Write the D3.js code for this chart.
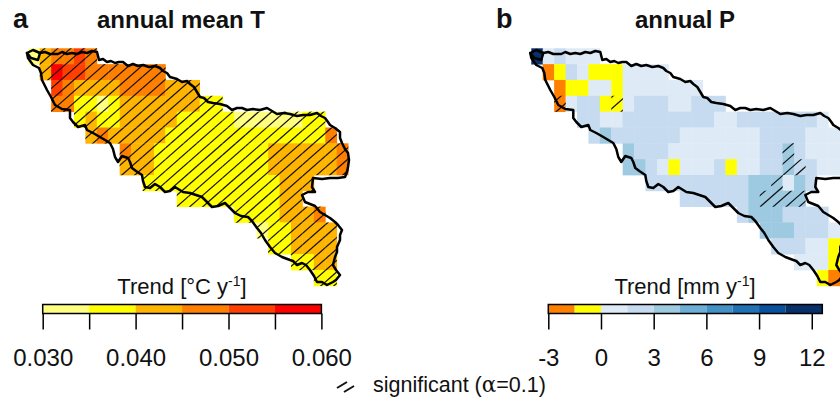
<!DOCTYPE html>
<html><head><meta charset="utf-8">
<script src="https://cdn.jsdelivr.net/npm/d3@7"></script>
<style>html,body{margin:0;padding:0;background:#fff}svg{display:block}text{font-family:"Liberation Sans",Arial,sans-serif;fill:#111}</style>
</head><body><svg id="c" width="840" height="401"></svg>
<script>
const _ = null;
// Temperature trend per grid cell, in 10^-3 degC per year
const trendT = [
[33,43,48,48,53,48,_,_,_,_,_,_,_,_,_,_,_,_,_,_,_,_,_,_,_,_,_,_],
[_,43,58,53,53,48,48,48,48,48,48,48,_,_,_,_,_,_,_,_,_,_,_,_,_,_,_,_],
[_,_,53,48,43,43,43,43,48,48,48,48,43,43,43,_,_,_,_,_,_,_,_,_,_,_,_,_],
[_,_,48,48,38,38,33,38,43,43,43,43,43,43,43,38,38,_,_,_,_,_,_,_,_,_,_,_],
[_,_,_,_,38,43,38,38,43,43,43,43,43,38,38,38,38,38,33,33,33,33,33,33,38,38,_,_],
[_,_,_,_,_,43,48,43,43,43,43,43,38,38,38,38,38,38,38,38,38,38,38,38,38,38,48,_],
[_,_,_,_,_,_,_,_,48,43,43,38,38,38,38,38,38,38,38,38,38,43,43,43,43,43,43,48],
[_,_,_,_,_,_,_,_,43,43,43,38,38,38,38,38,38,38,38,38,38,43,43,43,43,43,43,48],
[_,_,_,_,_,_,_,_,_,_,38,38,38,38,38,38,38,38,38,38,38,38,43,43,43,_,_,_],
[_,_,_,_,_,_,_,_,_,_,_,_,_,38,38,38,38,38,38,38,38,38,43,43,_,_,_,_],
[_,_,_,_,_,_,_,_,_,_,_,_,_,_,_,_,_,_,38,38,38,38,43,43,43,48,_,_],
[_,_,_,_,_,_,_,_,_,_,_,_,_,_,_,_,_,_,_,_,33,38,38,43,43,43,43,_],
[_,_,_,_,_,_,_,_,_,_,_,_,_,_,_,_,_,_,_,_,_,38,38,43,43,43,43,_],
[_,_,_,_,_,_,_,_,_,_,_,_,_,_,_,_,_,_,_,_,_,_,_,38,38,43,43,_],
[_,_,_,_,_,_,_,_,_,_,_,_,_,_,_,_,_,_,_,_,_,_,_,_,_,38,38,_]
];
// Precipitation trend per grid cell, mm per year
const trendP = [
[11,.8,2.2,.8,.8,.8,_,_,_,_,_,_,_,_,_,_,_,_,_,_,_,_,_,_,_,_,_,_],
[_,-2,-.7,2.2,.8,-.7,-.7,-.7,.8,.8,.8,.8,_,_,_,_,_,_,_,_,_,_,_,_,_,_,_,_],
[_,_,-2,-.7,-.7,.8,.8,-.7,.8,.8,.8,.8,.8,.8,.8,_,_,_,_,_,_,_,_,_,_,_,_,_],
[_,_,-2,.8,2.2,2.2,-.7,-.7,.8,2.2,2.2,2.2,.8,.8,2.2,2.2,2.2,_,_,_,_,_,_,_,_,_,_,_],
[_,_,_,_,2.2,2.2,.8,.8,2.2,2.2,2.2,2.2,2.2,2.2,2.2,2.2,.8,.8,2.2,2.2,2.2,2.2,2.2,2.2,2.2,.8,_,_],
[_,_,_,_,_,2.2,3.8,2.2,2.2,2.2,2.2,2.2,2.2,.8,.8,.8,.8,.8,.8,.8,2.2,2.2,2.2,2.2,.8,.8,.8,_],
[_,_,_,_,_,_,_,_,3.8,2.2,2.2,2.2,.8,.8,.8,.8,.8,.8,.8,.8,2.2,2.2,3.8,2.2,.8,.8,.8,.8],
[_,_,_,_,_,_,_,_,3.8,3.8,2.2,.8,-.7,.8,.8,.8,2.2,-.7,.8,.8,2.2,2.2,3.8,2.2,2.2,.8,.8,.8],
[_,_,_,_,_,_,_,_,_,_,2.2,2.2,2.2,2.2,2.2,2.2,2.2,2.2,2.2,3.8,3.8,3.8,.8,3.8,2.2,_,_,_],
[_,_,_,_,_,_,_,_,_,_,_,_,_,2.2,2.2,2.2,2.2,2.2,2.2,3.8,3.8,3.8,3.8,3.8,_,_,_,_],
[_,_,_,_,_,_,_,_,_,_,_,_,_,_,_,_,_,_,2.2,3.8,3.8,3.8,2.2,2.2,2.2,2.2,_,_],
[_,_,_,_,_,_,_,_,_,_,_,_,_,_,_,_,_,_,_,_,3.8,3.8,3.8,2.2,2.2,2.2,.8,_],
[_,_,_,_,_,_,_,_,_,_,_,_,_,_,_,_,_,_,_,_,_,2.2,2.2,2.2,.8,.8,-.7,_],
[_,_,_,_,_,_,_,_,_,_,_,_,_,_,_,_,_,_,_,_,_,_,_,.8,.8,.8,-.7,_],
[_,_,_,_,_,_,_,_,_,_,_,_,_,_,_,_,_,_,_,_,_,_,_,_,_,-.7,-2,_]
];
// [row, col] of cells
const notSignificantT = [[0,0]];
const significantP = [[3,2],[3,7],[6,22],[7,22],[7,23],[8,21],[9,20],[9,21],[9,22],[9,23]];

// basin outline, in map units
const basin = [[27,53],[33,50],[40,53],[45,52],[50,54],[58,54],[62,52],[67,54],[72,53],[77,54],[82,52],[87,53],[92,51],[97,52],[99,60],[103,59],[107,62],[111,61],[115,63],[119,62],[123,62],[128,66],[133,64],[138,66],[143,65],[149,67],[155,66],[160,68],[163,71],[167,73],[170,77],[177,79],[182,82],[187,81],[190,84],[194,87],[197,92],[200,97],[204,98],[208,102],[213,103],[220,104],[227,106],[232,110],[237,108],[242,108],[247,110],[253,109],[260,110],[267,108],[272,111],[277,114],[284,113],[290,114],[297,116],[303,115],[310,115],[317,113],[321,116],[325,118],[328,122],[330,125],[335,128],[340,132],[340,138],[342,143],[345,149],[348,153],[349,160],[348,167],[347,172],[345,177],[338,178],[330,178],[322,179],[313,178],[312,187],[315,192],[308,192],[302,195],[305,202],[315,206],[320,212],[325,215],[330,218],[335,222],[338,225],[342,230],[340,235],[340,240],[337,247],[337,252],[335,257],[333,265],[336,270],[340,275],[336,280],[333,282],[327,285],[322,282],[317,282],[314,276],[310,270],[306,265],[302,263],[297,265],[293,261],[290,260],[282,257],[275,253],[270,247],[265,240],[261,233],[257,228],[252,221],[248,217],[241,216],[235,213],[230,208],[225,203],[218,206],[212,207],[206,201],[202,197],[196,195],[190,193],[183,192],[175,187],[170,191],[165,192],[160,187],[155,184],[150,188],[145,187],[143,181],[142,175],[136,171],[132,168],[130,162],[128,158],[122,156],[118,162],[115,157],[113,149],[110,143],[105,140],[100,137],[93,133],[87,130],[85,125],[78,127],[73,122],[70,118],[70,110],[62,109],[55,105],[51,97],[47,90],[42,80],[41,73],[39,68],[33,65],[28,58],[27,53]];
const basinLoop = [[40,53],[38,60],[31,58],[27,53]];

const colorsT = ["#FFFF80","#FFFF00","#FFB400","#FF8000","#FF4000","#FF0000"];
const breaksT = [30,35,40,45,50,55,60];
const ticksT = [30,35,40,45,50,55,60];
const tickLabelsT = ["0.030","","0.040","","0.050","","0.060"];
const colorsP = ["#FF8000","#FFFF00","#DEEBF7","#C6DBEF","#9ECAE1","#6BAED6","#4292C6","#2171B5","#08519C","#08306B"];
const breaksP = [-3,-1.5,0,1.5,3,4.5,6,7.5,9,10.5,12.6];
const ticksP = [-3,0,3,6,9,12];

const svg = d3.select("#c");
const gridX = d3.scaleLinear().domain([0,28]).range([0,319.8]);
const gridY = d3.scaleLinear().domain([0,15]).range([48.3,285.8]);

function panel(o){
  const g = svg.append("g");
  const cw = gridX(1)-gridX(0), ch = gridY(1)-gridY(0);
  const color = d3.scaleThreshold().domain(o.breaks.slice(1,-1)).range(o.colors);
  const X = k => o.x0 + gridX(k);
  const cells = [];
  o.data.forEach((r,i)=>r.forEach((v,j)=>{ if(v!==null) cells.push({i,j,v}); }));
  g.selectAll("rect.cell").data(cells).join("rect").attr("class","cell")
    .attr("x",d=>X(d.j)).attr("y",d=>gridY(d.i)).attr("width",cw+.4).attr("height",ch+.4)
    .attr("fill",d=>color(d.v));
  // hatch, kept to the significant cells
  const id = "clip"+o.id;
  const cp = svg.append("clipPath").attr("id",id);
  cp.selectAll("rect").data(cells.filter(o.sig)).join("rect")
    .attr("x",d=>X(d.j)).attr("y",d=>gridY(d.i)).attr("width",cw+.2).attr("height",ch+.2);
  const hatch = g.append("g").attr("clip-path",`url(#${id})`);
  hatch.selectAll("line").data(d3.range(-40,60)).join("line")
    .attr("x1",n=>o.x0+o.hatchPhase+n*o.hatchStep).attr("y1",300)
    .attr("x2",n=>o.x0+o.hatchPhase+n*o.hatchStep+300).attr("y2",300-300*o.hatchSlope)
    .attr("stroke","#111").attr("stroke-width",1.2);
  // outline
  const mx = d3.scaleLinear().domain([0,100]).range([o.shift,o.shift+100]);
  const my = d3.scaleLinear().domain([0,100]).range([0,100]);
  const line = d3.line().x(d=>mx(d[0])).y(d=>my(d[1])).curve(d3.curveLinear);
  [basin,basinLoop].forEach(b=>g.append("path").attr("d",line(b)).attr("fill","none")
     .attr("stroke","#000").attr("stroke-width",2.5).attr("stroke-linejoin","round").attr("stroke-linecap","round"));
  // colour bar
  const sx = d3.scaleLinear().domain(o.domain).range(o.barRange);
  const bar = g.append("g");
  bar.selectAll("rect").data(o.colors).join("rect")
    .attr("x",(d,i)=>sx(o.breaks[i])).attr("y",305).attr("height",8.5)
    .attr("width",(d,i)=>sx(o.breaks[i+1])-sx(o.breaks[i])).attr("fill",d=>d);
  bar.append("rect").attr("x",o.barRange[0]).attr("y",304.5).attr("width",o.barRange[1]-o.barRange[0]).attr("height",9)
    .attr("fill","none").attr("stroke","#000").attr("stroke-width",1.5);
  const axis = d3.axisBottom(sx).tickValues(o.ticks).tickSize(16).tickPadding(14).tickFormat((d,i)=>o.labels[i]);
  const ax = g.append("g").attr("transform","translate(0,313.5)").call(axis);
  ax.select(".domain").remove();
  ax.selectAll(".tick line").attr("stroke","#000").attr("stroke-width",1.5);
  ax.selectAll(".tick text").attr("font-size",24).attr("fill","#111").attr("dy",0).attr("y",52.5);
  // texts
  const t = g.append("text").attr("x",o.trendX).attr("y",294).attr("font-size",22).attr("text-anchor","middle");
  t.append("tspan").text(o.unit[0]);
  t.append("tspan").text("-1").attr("font-size",14).attr("dy",-8);
  t.append("tspan").text("]").attr("dy",8);
  g.append("text").attr("x",o.letterX).attr("y",28).attr("font-size",27).attr("font-weight","bold").text(o.letter);
  g.append("text").attr("x",o.titleX).attr("y",28).attr("font-size",24).attr("font-weight","bold").attr("text-anchor","middle").text(o.title);
}

panel({id:"T",data:trendT,breaks:breaksT,colors:colorsT,domain:[30,60],barRange:[42.7,321.4],ticks:ticksT,labels:tickLabelsT,
  sig:d=>!notSignificantT.some(n=>n[0]===d.i&&n[1]===d.j),x0:28.3,shift:0,hatchPhase:3.5,hatchStep:13,hatchSlope:.88,
  unit:["Trend [°C y"],trendX:182,letter:"a",letterX:13,title:"annual mean T",titleX:181});
panel({id:"P",data:trendP,breaks:breaksP,colors:colorsP,domain:[-3,12.6],barRange:[548.3,822.3],ticks:ticksP,labels:ticksP.map(String),
  sig:d=>significantP.some(n=>n[0]===d.i&&n[1]===d.j),x0:531.3,shift:503.3,hatchPhase:5.9,hatchStep:13,hatchSlope:.88,
  unit:["Trend [mm y"],trendX:685,letter:"b",letterX:496,title:"annual P",titleX:685});

// legend
const legendKey = [0,1];
svg.selectAll("line.key").data(legendKey).join("line").attr("class","key")
  .attr("x1",d=>337+d*7).attr("y1",d=>388+d*4).attr("x2",d=>347+d*7).attr("y2",d=>382+d*4)
  .attr("stroke","#111").attr("stroke-width",2);
const lg = svg.append("text").attr("x",373).attr("y",392).attr("font-size",21.5);
lg.append("tspan").text("significant (");
lg.append("tspan").text("α").attr("font-family","DejaVu Serif");
lg.append("tspan").text("=0.1)");
</script></body></html>
